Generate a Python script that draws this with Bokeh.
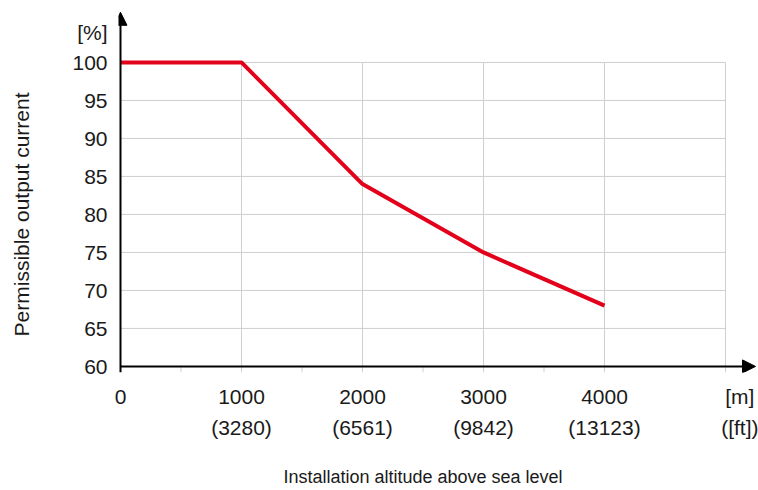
from bokeh.plotting import figure
from bokeh.models import Range1d, LinearAxis, FixedTicker, Arrow, NormalHead
from bokeh.embed import file_html
from bokeh.resources import INLINE

# ---- data ----
altitude_m = [0, 1000, 2000, 3000, 4000]
output_current_pct = [100, 100, 84, 75, 68]

x_tick_m = [0, 1000, 2000, 3000, 4000]
x_tick_ft = ["", "(3280)", "(6561)", "(9842)", "(13123)"]
x_unit_m = "[m]"
x_unit_ft = "([ft])"
x_grid_m = [1000, 2000, 3000, 4000, 5000]
x_minor_m = [500, 1500, 2500, 3500]
y_ticks = [60, 65, 70, 75, 80, 85, 90, 95, 100]
y_unit = "[%]"
x_title = "Installation altitude above sea level"
y_title = "Permissible output current"

# ---- layout constants ----
X_LO, X_HI = 0, 5000
Y_LO, Y_HI = 60, 100
Y_FRAME_LO = 59.2
X_UNIT_POS = 5140
Y_UNIT_POS = 104
X_ARROW_END = 5248
Y_ARROW_END = 106.6
X_TITLE_POS = 2500
Y_TITLE_POS = 80

FONT = "Liberation Sans"
TXT = "#1a1a1a"
GRID = "#cfcfcf"
RED = "#e2001a"

p = figure(width=758, height=490,
           x_range=Range1d(-16.5, 5272.6), y_range=Range1d(Y_FRAME_LO, 107.1),
           output_backend="svg", toolbar_location=None,
           min_border_left=118, min_border_right=0,
           min_border_top=8, min_border_bottom=118)
p.outline_line_color = None
p.xgrid.visible = False
p.ygrid.visible = False
p.background_fill_color = "white"
p.border_fill_color = "white"

def style_axis(ax, size="21px", standoff=10):
    ax.axis_line_color = None
    ax.major_tick_line_color = None
    ax.minor_tick_line_color = None
    ax.major_tick_out = 0
    ax.major_tick_in = 0
    ax.minor_tick_out = 0
    ax.minor_tick_in = 0
    ax.major_label_standoff = standoff
    ax.major_label_text_font = FONT
    ax.major_label_text_font_size = size
    ax.major_label_text_color = TXT

# bottom axis: metres + feet (two lines)
xa = p.xaxis[0]
xa.ticker = FixedTicker(ticks=x_tick_m + [X_UNIT_POS])
overrides = {}
for m, ft in zip(x_tick_m, x_tick_ft):
    overrides[m] = f"{m}\n{ft}" if ft else str(m)
overrides[X_UNIT_POS] = f"{x_unit_m}\n{x_unit_ft}"
xa.major_label_overrides = overrides
style_axis(xa, standoff=12)
xa.major_label_text_line_height = 1.35

# bottom title axis
xt = LinearAxis(ticker=FixedTicker(ticks=[X_TITLE_POS]),
                major_label_overrides={X_TITLE_POS: x_title})
style_axis(xt, size="18px", standoff=25)
p.add_layout(xt, "below")

# left axis
ya = p.yaxis[0]
ya.ticker = FixedTicker(ticks=y_ticks + [Y_UNIT_POS])
ya.major_label_overrides = {Y_UNIT_POS: y_unit}
style_axis(ya, standoff=11)

# left title axis
yt = LinearAxis(ticker=FixedTicker(ticks=[Y_TITLE_POS]),
                major_label_overrides={Y_TITLE_POS: y_title},
                major_label_orientation="vertical")
style_axis(yt, size="21px", standoff=36)
p.add_layout(yt, "left")

# grid lines
hy = [y for y in y_ticks if y > Y_LO]
p.segment(x0=[X_LO] * len(hy), y0=hy, x1=[X_HI] * len(hy), y1=hy,
          line_color=GRID, line_width=1)
p.segment(x0=x_grid_m, y0=[Y_FRAME_LO] * len(x_grid_m), x1=x_grid_m, y1=[Y_HI] * len(x_grid_m),
          line_color=GRID, line_width=1)
p.segment(x0=x_minor_m, y0=[Y_FRAME_LO] * len(x_minor_m), x1=x_minor_m, y1=[Y_LO] * len(x_minor_m),
          line_color=GRID, line_width=1)

# data line
p.line(altitude_m, output_current_pct, line_color=RED, line_width=4)

# axis arrows
p.add_layout(Arrow(x_start=X_LO, y_start=Y_LO, x_end=X_ARROW_END, y_end=Y_LO,
                   line_color="black", line_width=2,
                   end=NormalHead(size=13, fill_color="black", line_color="black")))
p.add_layout(Arrow(x_start=X_LO, y_start=Y_FRAME_LO, x_end=X_LO, y_end=Y_ARROW_END,
                   line_color="black", line_width=2,
                   end=NormalHead(size=13, fill_color="black", line_color="black")))

open("out.html", "w").write(file_html(p, INLINE))
